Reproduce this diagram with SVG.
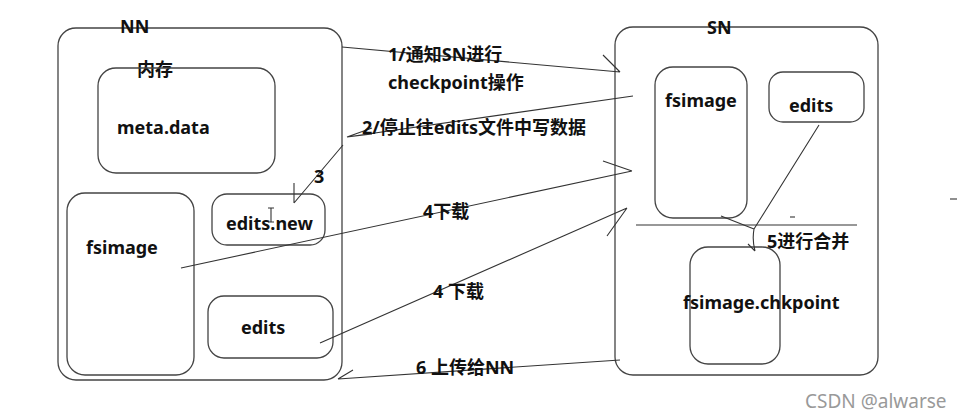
<svg xmlns="http://www.w3.org/2000/svg" width="962" height="420" viewBox="0 0 962 420">
<style>
.box{fill:none;stroke:#444;stroke-width:1.3}
.ln{fill:none;stroke:#333;stroke-width:1.1}
.t{font-family:"Noto Sans","Noto Sans CJK SC",sans-serif;font-weight:bold;font-size:18px;fill:#111}
.wm{font-family:"Noto Sans","Liberation Sans",sans-serif;font-size:19px;fill:#999}
</style>
<rect width="962" height="420" fill="#fff"/>
<g id="NN">
<rect class="box" x="58" y="28" width="284" height="352" rx="18"/>
<text class="t" x="120" y="33" font-size="17">NN</text>
<text class="t" x="137" y="76" font-size="17">内存</text>
</g>
<g id="meta-data">
<rect class="box" x="98" y="68" width="177" height="105" rx="18"/>
<text class="t" x="117" y="134">meta.data</text>
</g>
<g id="nn-fsimage">
<rect class="box" x="67" y="193" width="127" height="182" rx="18"/>
<text class="t" x="86" y="254">fsimage</text>
</g>
<g id="edits-new">
<rect class="box" x="212" y="194" width="113" height="51" rx="15"/>
<text class="t" x="226" y="230">edits.new</text>
<path class="ln" d="M268 208h6M271 208v14M268 222h6" stroke-width="1"/>
</g>
<g id="nn-edits">
<rect class="box" x="208" y="296" width="125" height="62" rx="16"/>
<text class="t" x="241" y="334">edits</text>
</g>
<g id="SN">
<rect class="box" x="615" y="27" width="263" height="348" rx="18"/>
<text class="t" x="707" y="34" font-size="17">SN</text>
<line class="ln" x1="636" y1="225" x2="857" y2="225"/>
<line class="ln" x1="790" y1="217" x2="795" y2="217" stroke-width="2"/>
</g>
<g id="sn-fsimage">
<rect class="box" x="655" y="67" width="92" height="151" rx="18"/>
<text class="t" x="665" y="107">fsimage</text>
</g>
<g id="sn-edits">
<rect class="box" x="769" y="72" width="95" height="50" rx="14"/>
<text class="t" x="789" y="112">edits</text>
</g>
<g id="fsimage-chkpoint">
<rect class="box" x="690" y="247" width="90" height="117" rx="18"/>
<text class="t" x="683" y="309">fsimage.chkpoint</text>
</g>
<g id="connectors">
<path class="ln" d="M342 47L620 72M603 55L620 72"/>
<path class="ln" d="M633 96L347 137M347 137L372 128M347 137L372 134"/>
<path class="ln" d="M343 145L294 203M294 183L294 203"/>
<path class="ln" d="M181 268L632 171M603 161L632 171"/>
<path class="ln" d="M320 343L627 208M607 236L627 208"/>
<path class="ln" d="M620 360L338 379M353 370L338 379"/>
<path class="ln" d="M721 216L754 229M819 125L754 229M754 229Q752 240 755 251M748 244L755 251"/>
<line class="ln" x1="950" y1="199" x2="957" y2="199"/>
</g>
<g id="labels">
<text class="t" x="388" y="61">1/通知SN进行</text>
<text class="t" x="388" y="89">checkpoint操作</text>
<text class="t" x="362" y="134">2/停止往edits文件中写数据</text>
<text class="t" x="314" y="183">3</text>
<text class="t" x="423" y="218">4下载</text>
<text class="t" x="433" y="298">4 下载</text>
<text class="t" x="416" y="374">6 上传给NN</text>
<text class="t" x="767" y="248">5进行合并</text>
</g>
<text class="wm" x="805" y="408">CSDN @alwarse</text>
</svg>
